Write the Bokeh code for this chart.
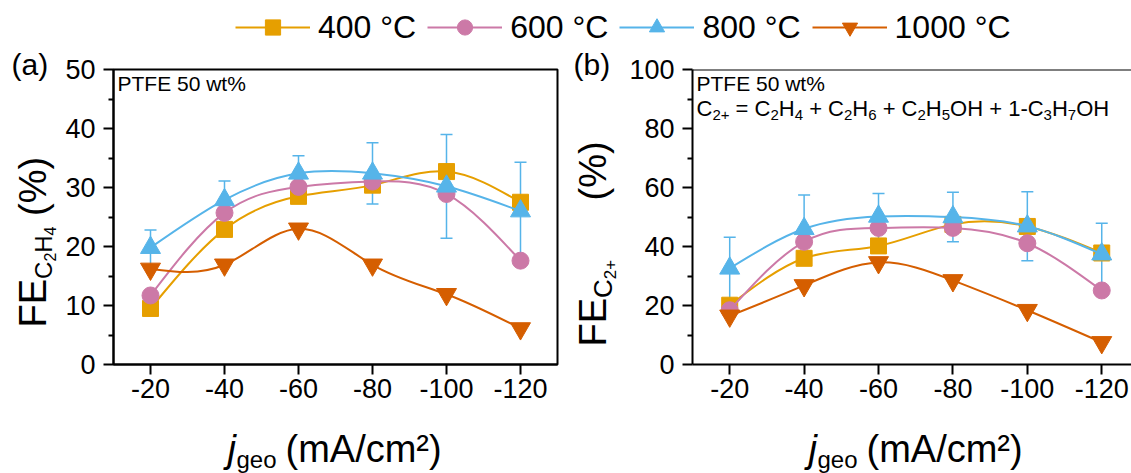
import numpy as np
from bokeh.plotting import figure
from bokeh.models import (Range1d, FixedTicker, Label, Legend, LegendItem, Whisker,
                          TeeHead, ColumnDataSource, Span, CustomJSTickFormatter)
from bokeh.layouts import column, row
from bokeh.embed import file_html
from bokeh.resources import INLINE

# ---------------- data ----------------
current = [-20, -40, -60, -80, -100, -120]
temps = ["400 °C", "600 °C", "800 °C", "1000 °C"]
colors = ["#E69F00", "#CC79A7", "#56B4E9", "#D55E00"]
markers = ["square", "circle", "triangle", "inverted_triangle"]
marker_sizes = [16, 17, 20, 20]

fe_c2h4_400 = [9.5, 22.9, 28.5, 30.4, 32.7, 27.5]
fe_c2h4_600 = [11.7, 25.7, 30.1, 31.0, 28.9, 17.6]
fe_c2h4_800 = [19.8, 27.9, 32.4, 32.4, 30.2, 26.0]
fe_c2h4_800_err = [3.0, 3.2, 3.0, 5.2, 8.8, 8.3]
fe_c2h4_1000 = [16.2, 16.9, 23.0, 16.9, 11.9, 6.1]

fe_c2p_400 = [20.1, 36.0, 40.2, 47.5, 46.8, 37.8]
fe_c2p_600 = [18.4, 41.6, 46.3, 46.3, 41.1, 25.1]
fe_c2p_800 = [32.6, 46.0, 50.2, 50.0, 46.9, 37.4]
fe_c2p_800_err = [10.5, 11.5, 7.8, 8.4, 11.7, 10.5]
fe_c2p_1000 = [16.5, 26.8, 34.6, 28.5, 18.4, 7.5]

yticks_a = [0, 10, 20, 30, 40, 50]
yminor_a = [5, 15, 25, 35, 45]
yticks_b = [0, 20, 40, 60, 80, 100]
yminor_b = [10, 30, 50, 70, 90]

FONT = "Liberation Sans"
BASE_FIX = 0.34   # Bokeh's alphabetic anchor sits this many em above the drawn baseline
LW = 2            # axis / frame line width

# Arial / Liberation Sans advance widths (per 1000 em), used only for laying out rich text
W = {' ': 278, '(': 333, ')': 333, '%': 889, '+': 584, '=': 584, '-': 333, '/': 278,
     'A': 667, 'C': 722, 'E': 667, 'F': 611, 'H': 722, 'O': 778, 'P': 667, 'T': 611,
     'a': 556, 'c': 500, 'e': 556, 'g': 556, 'j': 222, 'm': 833, 'o': 556, 't': 278,
     'w': 722, '²': 333, '°': 400}
for d in "0123456789":
    W[d] = 556


def tw(text, size):
    return sum(W.get(ch, 556) for ch in text) * size / 1000.0


def spline_segments(xs, ys):
    """Bezier control points of a natural cubic spline through the points (spline connect)."""
    x = np.asarray(xs, float)
    y = np.asarray(ys, float)
    u = -x
    n = len(u)
    h = np.diff(u)
    A = np.zeros((n, n))
    b = np.zeros(n)
    A[0, 0] = 1
    A[-1, -1] = 1
    for i in range(1, n - 1):
        A[i, i - 1] = h[i - 1]
        A[i, i] = 2 * (h[i - 1] + h[i])
        A[i, i + 1] = h[i]
        b[i] = 6 * ((y[i + 1] - y[i]) / h[i] - (y[i] - y[i - 1]) / h[i - 1])
    M = np.linalg.solve(A, b)
    m = np.zeros(n)
    for i in range(n - 1):
        m[i] = (y[i + 1] - y[i]) / h[i] - h[i] * (2 * M[i] + M[i + 1]) / 6
    m[-1] = (y[-1] - y[-2]) / h[-1] + h[-1] * (M[-2] + 2 * M[-1]) / 6
    dx = np.diff(x)
    return dict(x0=x[:-1], y0=y[:-1], x1=x[1:], y1=y[1:],
                cx0=x[:-1] + dx / 3, cy0=y[:-1] + m[:-1] * h / 3,
                cx1=x[1:] - dx / 3, cy1=y[1:] - m[1:] * h / 3)


class Canvas:
    """Places texts given in page pixels on a figure whose frame sits at (left, bottom)."""

    def __init__(self, fig, left, bottom):
        self.fig, self.left, self.bottom = fig, left, bottom

    def put(self, X, Y, text, size, rotated=False, style="normal"):
        if rotated:
            X -= BASE_FIX * size
        else:
            Y -= BASE_FIX * size
        self.fig.add_layout(Label(x=X - self.left, y=self.bottom - Y, x_units="screen",
                                  y_units="screen", text=text, text_font=FONT,
                                  text_font_size=f"{size}px", text_font_style=style,
                                  text_color="black", angle=np.pi / 2 if rotated else 0.0,
                                  text_align="left", text_baseline="alphabetic"))

    def rich(self, X, Y, runs, rotated=False):
        for text, size, d in runs:
            lead = tw(" " * (len(text) - len(text.lstrip(" "))), size)
            trail = tw(" " * (len(text) - len(text.rstrip(" "))), size)
            t = text.strip(" ")
            if rotated:
                Y -= lead
                self.put(X + d, Y, t, size, rotated=True)
                Y -= tw(t, size) + trail
            else:
                X += lead
                self.put(X, Y + d, t, size)
                X += tw(t, size) + trail


def strip(px0, py0, w, h):
    f = figure(width=w, height=h, x_range=Range1d(0, w), y_range=Range1d(0, h),
               x_axis_location=None, y_axis_location=None, toolbar_location=None,
               min_border=0, outline_line_color=None, output_backend="svg")
    f.frame_align = False
    f.grid.visible = False
    return f, Canvas(f, px0, py0 + h)


ROW_TOP = 46
ROW_H = 374
FRAME_TOP = 69
FRAME_BOTTOM = 364


def make_panel(width, left, right, x_end, y_end, yticks, yminor, series, err, box):
    p = figure(width=width, height=ROW_H, x_range=Range1d(-10, x_end), y_range=Range1d(0, y_end),
               min_border_left=left, min_border_right=right,
               min_border_top=FRAME_TOP - ROW_TOP,
               min_border_bottom=ROW_TOP + ROW_H - FRAME_BOTTOM,
               toolbar_location=None, output_backend="svg",
               outline_line_color="black" if box else None, outline_line_width=LW,
               background_fill_color="white", border_fill_color="white")
    p.grid.visible = False
    p.xaxis.ticker = FixedTicker(ticks=current)
    p.xaxis.formatter = CustomJSTickFormatter(code="return tick.toString()")
    p.yaxis.ticker = FixedTicker(ticks=yticks, minor_ticks=yminor)
    for ax in p.axis:
        ax.axis_line_color = "black"
        ax.axis_line_width = LW
        ax.major_tick_line_color = "black"
        ax.major_tick_line_width = LW
        ax.major_tick_out = 10
        ax.major_tick_in = 0
        ax.minor_tick_line_color = "black"
        ax.minor_tick_line_width = LW
        ax.minor_tick_out = 5
        ax.minor_tick_in = 0
        ax.major_label_text_font = FONT
        ax.major_label_text_font_size = "27px"
        ax.major_label_text_color = "black"
    p.xaxis.minor_tick_line_color = None
    p.xaxis.major_label_standoff = 4
    p.yaxis.major_label_standoff = 8
    if not box:
        p.add_layout(Span(location=y_end, dimension="width", line_color="black", line_width=LW))

    for k, (vals, col, mk, ms) in enumerate(zip(series, colors, markers, marker_sizes)):
        seg = ColumnDataSource(spline_segments(current, vals))
        p.bezier(x0="x0", y0="y0", x1="x1", y1="y1", cx0="cx0", cy0="cy0", cx1="cx1",
                 cy1="cy1", source=seg, line_color=col, line_width=2)
        p.scatter(current, vals, marker=mk, size=ms, fill_color=col, line_color=col)
        if k == 2:
            es = ColumnDataSource(dict(x=current, upper=[v + e for v, e in zip(vals, err)],
                                       lower=[v - e for v, e in zip(vals, err)]))
            p.add_layout(Whisker(base="x", upper="upper", lower="lower", source=es,
                                 line_color=col, line_width=1.5,
                                 upper_head=TeeHead(size=12, line_color=col, line_width=1.5),
                                 lower_head=TeeHead(size=12, line_color=col, line_width=1.5)))
    return p


# ---------------- geometry (page pixels) ----------------
YA_W = 62                 # left label strip of panel (a)
PA_X, PA_W = 62, 504      # panel (a) figure, frame 111..557
YB_X, YB_W = 566, 60      # left label strip of panel (b)
PB_X, PB_W = 626, 505     # panel (b) figure, frame 692..1131

# ---------------- panel (a) ----------------
pa = make_panel(PA_W, 111 - PA_X, PA_X + PA_W - 557, -130, 50, yticks_a, yminor_a,
                [fe_c2h4_400, fe_c2h4_600, fe_c2h4_800, fe_c2h4_1000], fe_c2h4_800_err, True)
Canvas(pa, 111, FRAME_BOTTOM).put(115, 90, "PTFE 50 wt%", 21)

ya, ca = strip(0, ROW_TOP, YA_W, ROW_H)
ca.put(11, 74, "(a)", 30)
ca.rich(45, 327, [("FE", 38, 0), ("C", 24, 6), ("2", 16, 10), ("H", 24, 6),
                  ("4", 16, 10), (" (%)", 38, 0)], rotated=True)

# ---------------- panel (b) ----------------
pb = make_panel(PB_W, 692 - PB_X, 0, -128, 100, yticks_b, yminor_b,
                [fe_c2p_400, fe_c2p_600, fe_c2p_800, fe_c2p_1000], fe_c2p_800_err, False)
cb_panel = Canvas(pb, 692, FRAME_BOTTOM)
cb_panel.put(696, 90, "PTFE 50 wt%", 21)
cb_panel.rich(696, 115, [("C", 22, 0), ("2+", 15, 5), (" = C", 22, 0), ("2", 15, 5),
                         ("H", 22, 0), ("4", 15, 5), (" + C", 22, 0), ("2", 15, 5),
                         ("H", 22, 0), ("6", 15, 5), (" + C", 22, 0), ("2", 15, 5),
                         ("H", 22, 0), ("5", 15, 5), ("OH + 1-C", 22, 0), ("3", 15, 5),
                         ("H", 22, 0), ("7", 15, 5), ("OH", 22, 0)])

yb, cb = strip(YB_X, ROW_TOP, YB_W, ROW_H)
cb.put(573, 74, "(b)", 30)
cb.rich(605, 346, [("FE", 38, 0), ("C", 26, 6), ("2+", 17, 10)], rotated=True)
cb.put(605, 200, "(%)", 38, rotated=True)

# ---------------- x labels strip ----------------
xl, cx = strip(0, ROW_TOP + ROW_H, 1131, 473 - ROW_TOP - ROW_H)
for j0 in (227, 808):
    cx.put(j0, 461, "j", 38, style="italic")
    cx.put(j0 + 9, 467, "geo", 24)
    cx.put(j0 + 58, 461, "(mA/cm²)", 38)

# ---------------- legend strip ----------------
pl = figure(width=1131, height=ROW_TOP, x_range=Range1d(0, 1), y_range=Range1d(0, 1),
            x_axis_location=None, y_axis_location=None, toolbar_location=None,
            min_border=0, outline_line_color=None, output_backend="svg")
pl.frame_align = False
pl.grid.visible = False
items = []
for name, vals, col, mk, ms in zip(temps, [fe_c2h4_400, fe_c2h4_600, fe_c2h4_800, fe_c2h4_1000],
                                   colors, markers, marker_sizes):
    r1 = pl.line(current, vals, line_color=col, line_width=2)
    r2 = pl.scatter(current, vals, marker=mk, size=ms, fill_color=col, line_color=col)
    items.append(LegendItem(label=name, renderers=[r1, r2]))
leg = Legend(items=items, orientation="horizontal", location=(235, 0), glyph_width=75,
             glyph_height=38, label_height=38, label_standoff=8, spacing=11, padding=0,
             margin=0, border_line_color=None, background_fill_alpha=0,
             label_text_font=FONT, label_text_font_size="32px", label_text_color="black")
pl.add_layout(leg)

layout = column(pl, row(ya, pa, yb, pb, spacing=0), xl, spacing=0)
open("out.html", "w").write(file_html(layout, INLINE))
